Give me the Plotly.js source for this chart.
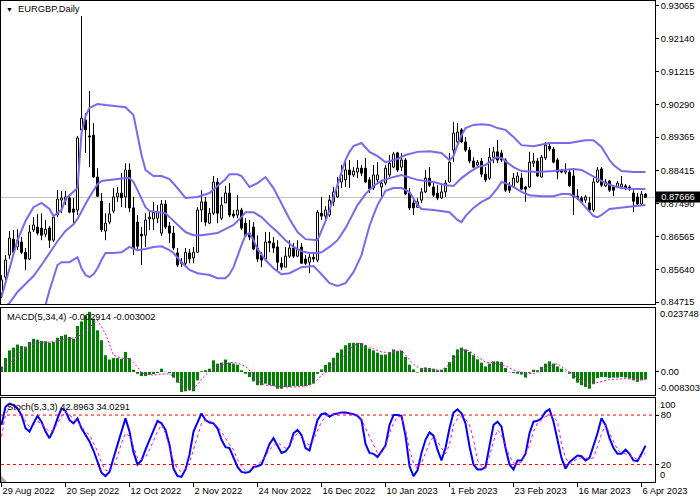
<!DOCTYPE html>
<html><head><meta charset="utf-8">
<script src="https://cdn.plot.ly/plotly-3.0.1.min.js"></script>
<style>html,body{margin:0;padding:0;background:#fff}#chart{width:700px;height:500px}</style>
</head><body><div id="chart"></div>
<script>
// ---- data (EURGBP Daily) ----
const dateLabels = ['29 Aug 2022','20 Sep 2022','12 Oct 2022','2 Nov 2022','24 Nov 2022','16 Dec 2022','10 Jan 2023','1 Feb 2023','23 Feb 2023','16 Mar 2023','6 Apr 2023'];
const dateTickIdx = [0,16,32,48,64,80,96,112,128,144,160];
const priceTicks = [0.93065,0.92140,0.91215,0.90290,0.89365,0.88415,0.87490,0.86565,0.85640,0.84715];
const priceTickText = ['0.93065','0.92140','0.91215','0.90290','0.89365','0.88415','0.87490','0.86565','0.85640','0.84715'];
const lastPrice = 0.87666;
const lastPriceText = '0.87666';

const openP = [
0.8497,0.8542,0.8604,0.8649,0.8627,0.8641,0.8612,0.8593,0.8675,0.8683,
0.8680,0.8663,0.8680,0.8646,0.8717,0.8759,0.8759,0.8765,0.8734,0.8731,
0.8957,0.8985,0.8940,0.8942,0.8824,0.8756,0.8672,0.8697,0.8728,0.8768,
0.8779,0.8768,0.8844,0.8737,0.8697,0.8663,0.8660,0.8706,0.8706,0.8708,
0.8666,0.8748,0.8686,0.8666,0.8610,0.8584,0.8581,0.8610,0.8596,0.8612,
0.8731,0.8754,0.8694,0.8722,0.8810,0.8708,0.8751,0.8779,0.8720,0.8717,
0.8731,0.8694,0.8666,0.8683,0.8624,0.8604,0.8593,0.8643,0.8638,0.8627,
0.8581,0.8570,0.8601,0.8624,0.8601,0.8627,0.8593,0.8584,0.8598,0.8590,
0.8722,0.8714,0.8717,0.8754,0.8768,0.8810,0.8816,0.8844,0.8830,0.8838,
0.8849,0.8849,0.8816,0.8793,0.8816,0.8796,0.8807,0.8830,0.8852,0.8892,
0.8852,0.8872,0.8779,0.8751,0.8739,0.8759,0.8782,0.8821,0.8796,0.8779,
0.8765,0.8782,0.8810,0.8900,0.8923,0.8957,0.8923,0.8900,0.8869,0.8858,
0.8869,0.8832,0.8821,0.8880,0.8895,0.8892,0.8872,0.8799,0.8796,0.8810,
0.8821,0.8796,0.8796,0.8863,0.8869,0.8824,0.8878,0.8911,0.8903,0.8872,
0.8841,0.8838,0.8838,0.8827,0.8770,0.8765,0.8759,0.8751,0.8731,0.8810,
0.8847,0.8799,0.8813,0.8796,0.8796,0.8796,0.8799,0.8796,0.8779,0.8768,
0.8748,0.8776];
const highP = [
0.8548,0.8604,0.8672,0.8675,0.8677,0.8655,0.8624,0.8689,0.8711,0.8720,
0.8722,0.8703,0.8686,0.8717,0.8787,0.8785,0.8785,0.8776,0.8765,0.8940,
0.9278,0.9004,0.9067,0.8976,0.8849,0.8779,0.8722,0.8751,0.8793,0.8796,
0.8835,0.8863,0.8863,0.8768,0.8717,0.8683,0.8722,0.8725,0.8754,0.8745,
0.8759,0.8759,0.8697,0.8686,0.8624,0.8596,0.8624,0.8621,0.8627,0.8739,
0.8787,0.8768,0.8737,0.8827,0.8821,0.8768,0.8799,0.8807,0.8731,0.8773,
0.8737,0.8708,0.8703,0.8697,0.8660,0.8612,0.8669,0.8669,0.8655,0.8646,
0.8598,0.8627,0.8646,0.8638,0.8646,0.8638,0.8604,0.8610,0.8610,0.8731,
0.8768,0.8742,0.8773,0.8796,0.8824,0.8858,0.8872,0.8872,0.8852,0.8872,
0.8858,0.8878,0.8824,0.8858,0.8866,0.8816,0.8858,0.8886,0.8895,0.8895,
0.8892,0.8878,0.8793,0.8759,0.8765,0.8793,0.8844,0.8852,0.8810,0.8801,
0.8801,0.8816,0.8892,0.8979,0.8976,0.8962,0.8937,0.8909,0.8880,0.8872,
0.8878,0.8852,0.8906,0.8909,0.8928,0.8900,0.8878,0.8810,0.8835,0.8838,
0.8835,0.8799,0.8895,0.8892,0.8878,0.8886,0.8923,0.8923,0.8909,0.8878,
0.8847,0.8863,0.8847,0.8844,0.8790,0.8770,0.8773,0.8768,0.8821,0.8852,
0.8852,0.8818,0.8816,0.8801,0.8813,0.8827,0.8804,0.8801,0.8787,0.8779,
0.8785,0.8779];
const lowP = [
0.8483,0.8534,0.8593,0.8607,0.8618,0.8607,0.8562,0.8590,0.8669,0.8660,
0.8646,0.8655,0.8624,0.8641,0.8711,0.8722,0.8745,0.8722,0.8689,0.8717,
0.8951,0.8892,0.8852,0.8821,0.8768,0.8669,0.8646,0.8691,0.8722,0.8754,
0.8739,0.8737,0.8725,0.8604,0.8621,0.8576,0.8627,0.8675,0.8675,0.8694,
0.8658,0.8677,0.8638,0.8618,0.8570,0.8570,0.8570,0.8581,0.8581,0.8610,
0.8697,0.8686,0.8691,0.8717,0.8694,0.8703,0.8751,0.8711,0.8708,0.8708,
0.8675,0.8655,0.8646,0.8618,0.8584,0.8570,0.8590,0.8612,0.8610,0.8562,
0.8562,0.8570,0.8596,0.8596,0.8598,0.8579,0.8576,0.8553,0.8584,0.8584,
0.8703,0.8703,0.8711,0.8742,0.8765,0.8793,0.8796,0.8793,0.8824,0.8821,
0.8827,0.8807,0.8779,0.8787,0.8807,0.8768,0.8801,0.8824,0.8849,0.8838,
0.8841,0.8773,0.8731,0.8717,0.8737,0.8751,0.8779,0.8796,0.8768,0.8759,
0.8762,0.8768,0.8807,0.8866,0.8914,0.8920,0.8895,0.8863,0.8849,0.8849,
0.8824,0.8810,0.8816,0.8863,0.8863,0.8866,0.8782,0.8779,0.8793,0.8807,
0.8787,0.8754,0.8793,0.8852,0.8824,0.8824,0.8872,0.8897,0.8863,0.8818,
0.8835,0.8832,0.8796,0.8717,0.8759,0.8751,0.8751,0.8725,0.8725,0.8807,
0.8796,0.8796,0.8782,0.8770,0.8793,0.8790,0.8787,0.8785,0.8725,0.8742,
0.8745,0.8765];
const closeP = [
0.8534,0.8590,0.8652,0.8612,0.8646,0.8612,0.8593,0.8669,0.8689,0.8666,
0.8660,0.8677,0.8646,0.8711,0.8762,0.8765,0.8768,0.8725,0.8725,0.8934,
0.8990,0.8957,0.8937,0.8824,0.8770,0.8675,0.8694,0.8720,0.8768,0.8779,
0.8765,0.8844,0.8737,0.8624,0.8629,0.8658,0.8703,0.8711,0.8725,0.8725,
0.8748,0.8683,0.8666,0.8624,0.8576,0.8581,0.8612,0.8593,0.8612,0.8731,
0.8754,0.8697,0.8722,0.8810,0.8722,0.8745,0.8779,0.8717,0.8714,0.8731,
0.8680,0.8658,0.8655,0.8621,0.8593,0.8590,0.8641,0.8638,0.8624,0.8584,
0.8570,0.8601,0.8624,0.8601,0.8621,0.8581,0.8581,0.8598,0.8593,0.8725,
0.8714,0.8731,0.8759,0.8782,0.8799,0.8830,0.8844,0.8830,0.8841,0.8849,
0.8835,0.8810,0.8790,0.8830,0.8830,0.8807,0.8849,0.8863,0.8889,0.8844,
0.8872,0.8776,0.8737,0.8737,0.8754,0.8782,0.8821,0.8801,0.8773,0.8765,
0.8782,0.8807,0.8866,0.8948,0.8951,0.8923,0.8900,0.8869,0.8852,0.8866,
0.8832,0.8816,0.8880,0.8895,0.8872,0.8872,0.8787,0.8787,0.8821,0.8827,
0.8790,0.8790,0.8866,0.8869,0.8827,0.8880,0.8914,0.8903,0.8866,0.8838,
0.8838,0.8841,0.8799,0.8768,0.8765,0.8754,0.8768,0.8731,0.8810,0.8844,
0.8801,0.8810,0.8787,0.8787,0.8807,0.8804,0.8793,0.8790,0.8756,0.8748,
0.8776,0.87666];

// Bollinger bands at the listed bars
const upperIdx = [0,2,4,6,8,10,12,13,15,16, 18,19,20,21,22,24,26,31,33,34, 35,36,38,40,42,44,46,49,52,54, 56,57,59,60,62,64,66,68,70,72, 74,76,79,80,81,82,83,84,85,86, 87,88,90,92,94,96,99,101,104,107, 110,112,113,114,115,116,118,120,122,124, 126,128,130,133,137,142,146,148,150,152, 153,155,158,161];
const upperBand = [0.8486,0.8570,0.8646,0.8700,0.8739,0.8751,0.8734,0.8714,0.8731,0.8762, 0.8782,0.8793,0.8948,0.8996,0.9019,0.9030,0.9027,0.9021,0.8999,0.8942, 0.8886,0.8844,0.8827,0.8827,0.8818,0.8793,0.8765,0.8768,0.8779,0.8799, 0.8818,0.8832,0.8832,0.8827,0.8796,0.8807,0.8824,0.8793,0.8751,0.8706, 0.8669,0.8649,0.8646,0.8672,0.8700,0.8731,0.8768,0.8807,0.8838,0.8872, 0.8895,0.8911,0.8920,0.8895,0.8883,0.8866,0.8875,0.8886,0.8895,0.8897, 0.8892,0.8872,0.8883,0.8914,0.8942,0.8962,0.8971,0.8973,0.8971,0.8962, 0.8957,0.8937,0.8914,0.8911,0.8920,0.8920,0.8928,0.8928,0.8909,0.8872, 0.8858,0.8841,0.8838,0.8838];
const middleIdx = [0,2,4,6,8,10,12,14,16,18, 19,20,21,22,23,24,25,27,31,32, 33,34,35,36,37,39,41,42,44,46, 48,50,54,56,58,60,61,63,65,67, 69,71,73,75,77,79,80,82,84,86, 88,89,91,93,95,97,100,102,104,108, 111,113,115,117,119,121,123,124,125,126, 128,130,134,138,143,145,147,149,151,153, 155,158,161];
const middleBand = [0.8452,0.8469,0.8500,0.8522,0.8545,0.8576,0.8610,0.8643,0.8672,0.8691, 0.8706,0.8725,0.8748,0.8768,0.8787,0.8804,0.8813,0.8816,0.8821,0.8821, 0.8810,0.8787,0.8762,0.8739,0.8728,0.8725,0.8722,0.8711,0.8691,0.8669, 0.8660,0.8660,0.8666,0.8677,0.8689,0.8711,0.8725,0.8725,0.8711,0.8689, 0.8669,0.8646,0.8627,0.8615,0.8610,0.8610,0.8612,0.8627,0.8646,0.8680, 0.8725,0.8745,0.8776,0.8799,0.8813,0.8821,0.8830,0.8824,0.8816,0.8810, 0.8801,0.8799,0.8821,0.8838,0.8852,0.8858,0.8875,0.8880,0.8878,0.8869, 0.8852,0.8841,0.8838,0.8841,0.8847,0.8844,0.8832,0.8818,0.8807,0.8799, 0.8793,0.8790,0.8790];
const lowerIdx = [10,11,12,13,14,15,17,19,20,21, 22,23,24,25,26,28,30,32,34,36, 38,40,42,43,45,47,49,52,54,56, 57,58,59,60,61,62,63,64,66,68, 70,72,75,78,80,81,82,84,86,88, 90,91,92,93,94,96,98,100,102,104, 105,108,112,114,115,116,118,120,122,124, 125,126,128,130,132,135,138,140,142,144, 146,147,148,149,150,152,155,158,161];
const lowerBand = [0.8435,0.8463,0.8505,0.8542,0.8576,0.8584,0.8584,0.8598,0.8567,0.8548, 0.8542,0.8550,0.8567,0.8590,0.8610,0.8610,0.8612,0.8627,0.8618,0.8621, 0.8627,0.8629,0.8618,0.8610,0.8584,0.8562,0.8553,0.8548,0.8539,0.8539, 0.8550,0.8570,0.8604,0.8632,0.8660,0.8666,0.8646,0.8621,0.8590,0.8567, 0.8550,0.8553,0.8570,0.8573,0.8550,0.8536,0.8525,0.8517,0.8525,0.8556, 0.8604,0.8646,0.8686,0.8717,0.8745,0.8785,0.8793,0.8793,0.8782,0.8745, 0.8734,0.8731,0.8725,0.8703,0.8697,0.8714,0.8737,0.8754,0.8765,0.8793, 0.8810,0.8807,0.8796,0.8782,0.8773,0.8770,0.8770,0.8776,0.8776,0.8765, 0.8739,0.8725,0.8714,0.8711,0.8717,0.8734,0.8739,0.8742,0.8745];

// MACD(5,34,4)
const macdHist = [
0.0022,0.0055,0.0085,0.0096,0.0108,0.0102,0.0100,0.0118,0.0131,0.0127,
0.0122,0.0121,0.0116,0.0118,0.0135,0.0142,0.0147,0.0138,0.0131,0.0181,
0.0199,0.0223,0.0237,0.0210,0.0164,0.0125,0.0066,0.0049,0.0055,0.0055,
0.0052,0.0079,0.0055,0.0009,-0.0007,-0.0016,-0.0016,-0.0011,-0.0009,-0.0004,
0.0013,0.0001,-0.0004,-0.0022,-0.0042,-0.0079,-0.0076,-0.0072,-0.0076,-0.0033,
0.0003,0.0007,0.0013,0.0046,0.0033,0.0037,0.0049,0.0037,0.0033,0.0029,
0.0007,-0.0007,-0.0020,-0.0037,-0.0052,-0.0052,-0.0046,-0.0052,-0.0055,-0.0066,
-0.0066,-0.0059,-0.0059,-0.0056,-0.0056,-0.0055,-0.0056,-0.0052,-0.0046,-0.0007,
0.0010,0.0028,0.0038,0.0056,0.0076,0.0089,0.0105,0.0114,0.0115,0.0115,
0.0114,0.0105,0.0092,0.0085,0.0076,0.0068,0.0069,0.0079,0.0089,0.0083,
0.0083,0.0059,0.0029,0.0010,-0.0002,0.0016,0.0018,0.0016,0.0013,0.0007,
0.0009,0.0016,0.0039,0.0066,0.0089,0.0096,0.0089,0.0079,0.0066,0.0050,
0.0037,0.0022,0.0033,0.0042,0.0042,0.0039,0.0016,-0.0001,-0.0004,-0.0007,
-0.0010,-0.0022,-0.0003,0.0009,0.0007,0.0020,0.0033,0.0042,0.0033,0.0022,
0.0013,0.0001,-0.0007,-0.0026,-0.0042,-0.0052,-0.0059,-0.0066,-0.0048,-0.0024,
-0.0020,-0.0020,-0.0024,-0.0022,-0.0022,-0.0020,-0.0022,-0.0026,-0.0033,-0.0039,
-0.0033,-0.0029];
const macdSigIdx = [0,2,4,7,9,12,14,17,19,22, 24,26,28,30,32,34,35,38,40,42, 44,45,47,49,50,52,54,57,59,61, 63,64,66,69,71,74,77,79,80,82, 83,86,88,90,92,95,97,100,102,103, 105,107,110,112,115,117,119,121,123,126, 128,131,133,135,137,139,141,142,145,147, 150,152,156,158,161];
const macdSignal = [0.0007,0.0033,0.0072,0.0105,0.0116,0.0118,0.0123,0.0131,0.0137,0.0177, 0.0203,0.0151,0.0066,0.0055,0.0052,0.0020,-0.0005,-0.0013,-0.0008,-0.0007, -0.0030,-0.0050,-0.0072,-0.0050,-0.0028,0.0003,0.0020,0.0037,0.0036,0.0022, -0.0010,-0.0035,-0.0052,-0.0056,-0.0059,-0.0059,-0.0052,-0.0030,-0.0012,0.0007, 0.0024,0.0070,0.0105,0.0114,0.0097,0.0079,0.0076,0.0085,0.0048,0.0030, 0.0010,0.0010,0.0007,0.0030,0.0088,0.0084,0.0060,0.0038,0.0037,0.0024, 0.0008,-0.0005,-0.0007,0.0008,0.0024,0.0033,0.0010,0.0002,-0.0035,-0.0049, -0.0039,-0.0030,-0.0026,-0.0030,-0.0030];
const macdLabel = 'MACD(5,34,4) -0.002914 -0.003002';
const macdTopText = '0.023748', macdTopVal = 0.023748;
const macdBotText = '-0.008303', macdBotVal = -0.008303;

// Stochastic(5,3,3)
const stochMain = [
68,90,94,92,88,80,64,60,70,79,
72,60,52,62,76,88,85,74,70,76,
64,56,48,37,24,10,6,11,28,45,
62,76,60,35,20,25,38,50,63,73,
70,62,44,15,6,5,14,32,60,72,
82,74,71,70,64,50,41,40,28,17,
11,10,11,17,18,20,32,45,52,42,
34,36,42,58,62,56,40,37,55,74,
81,82,78,81,82,83,83,82,81,79,
74,45,34,33,29,36,43,68,80,80,
79,55,18,6,13,34,50,59,55,38,
25,40,64,83,87,82,70,42,20,14,
14,17,45,68,72,66,40,20,14,25,
25,33,58,72,73,76,84,87,72,51,
28,15,23,27,31,30,25,28,42,58,
76,68,52,40,33,33,38,33,25,24,
33,42.9];
const stochSignal = [
54,80,90,92,90,82,72,66,68,72,
70,64,60,62,70,78,84,80,76,72,
66,60,56,45,36,22,13,12,18,30,
46,58,54,42,28,26,29,38,50,60,
68,58,40,24,15,11,15,22,38,54,
70,74,73,70,66,60,52,44,38,26,
18,13,13,16,20,24,30,38,43,47,
43,40,44,52,58,54,46,44,50,62,
72,78,81,81,82,82,82,81,81,80,
75,64,54,42,34,34,42,58,70,78,
78,62,38,22,15,22,33,46,54,48,
40,33,44,68,76,78,75,68,50,25,
18,15,30,48,62,56,42,30,22,21,
23,32,44,60,70,74,78,80,78,72,
45,28,21,24,27,28,28,27,28,42,
57,68,58,46,38,34,33,31,29,26,
30,34.0];
const stochLabel = 'Stoch(5,3,3) 42.8963 34.0291';
const stochLevels = [80,20];

// ---- build traces ----
const N = openP.length;
const barIdx = Array.from({length:N}, (_, i) => i);
const bodyBase = barIdx.map(i => Math.min(openP[i], closeP[i]));
const bodyLen = barIdx.map(i => Math.max(Math.abs(closeP[i]-openP[i]), 0.00004));
const bodyFill = barIdx.map(i => closeP[i] >= openP[i] ? '#ffffff' : '#000000');
const wickX = [], wickY = [];
barIdx.forEach(i => {
  const top = Math.max(openP[i], closeP[i]), bot = Math.min(openP[i], closeP[i]);
  if (highP[i] > top) { wickX.push(i, i, null); wickY.push(top, highP[i], null); }
  if (lowP[i] < bot) { wickX.push(i, i, null); wickY.push(lowP[i], bot, null); }
});
const bandColor = '#7B68EE';
const FONT = 'Liberation Sans, Arial, sans-serif';
const FS = 9.3;

const traces = [
  {type:'scatter', mode:'lines', x:wickX, y:wickY, line:{color:'#000', width:1}, xaxis:'x', yaxis:'y', hoverinfo:'skip'},
  {type:'bar', x:barIdx, y:bodyLen, base:bodyBase, width:0.5, marker:{color:bodyFill, line:{color:'#000', width:1}}, xaxis:'x', yaxis:'y'},
  {type:'scatter', mode:'lines', x:upperIdx, y:upperBand, line:{color:bandColor, width:2}, xaxis:'x', yaxis:'y'},
  {type:'scatter', mode:'lines', x:middleIdx, y:middleBand, line:{color:bandColor, width:2}, xaxis:'x', yaxis:'y'},
  {type:'scatter', mode:'lines', x:lowerIdx, y:lowerBand, line:{color:bandColor, width:2}, xaxis:'x', yaxis:'y'},
  {type:'bar', x:barIdx, y:macdHist, width:0.75, marker:{color:'#008000', line:{width:0}}, xaxis:'x2', yaxis:'y2'},
  {type:'scatter', mode:'lines', x:macdSigIdx, y:macdSignal, line:{color:'#FF00FF', width:1, dash:'2px,2px'}, xaxis:'x2', yaxis:'y2'},
  {type:'scatter', mode:'lines', x:barIdx, y:stochMain, line:{color:'#0000FF', width:2}, xaxis:'x3', yaxis:'y3'},
  {type:'scatter', mode:'lines', x:barIdx, y:stochSignal, line:{color:'#FF00FF', width:1, dash:'3px,3px'}, xaxis:'x3', yaxis:'y3'}
];

const xr = [-0.125, 163.375];
const baseX = {range:xr, showgrid:false, zeroline:false, showline:true, mirror:true, linecolor:'#000', linewidth:1, fixedrange:true};
const baseY = {side:'right', showgrid:false, zeroline:false, showline:true, mirror:true, linecolor:'#000', linewidth:1,
  ticks:'outside', ticklen:3, tickcolor:'#000', tickfont:{family:FONT, size:FS, color:'#000'}, fixedrange:true};

const annotations = [
  {xref:'paper', yref:'paper', x:0, y:1, xanchor:'left', yanchor:'top', xshift:3, yshift:-1, showarrow:false,
   text:'<span style="font-size:7px">▼</span>  EURGBP,Daily', font:{family:FONT, size:FS, color:'#000'}},
  {xref:'paper', yref:'paper', x:0, y:0.3617, xanchor:'left', yanchor:'top', xshift:4, yshift:-2, showarrow:false,
   text:macdLabel, font:{family:FONT, size:FS, color:'#000'}},
  {xref:'paper', yref:'paper', x:0, y:0.1746, xanchor:'left', yanchor:'top', xshift:4, yshift:-2, showarrow:false,
   text:stochLabel, font:{family:FONT, size:FS, color:'#000'}},
  {xref:'paper', yref:'y', x:1, y:lastPrice, xanchor:'left', yanchor:'middle', xshift:0, showarrow:false,
   text:lastPriceText, bgcolor:'#000', borderpad:0, width:44, height:10, font:{family:FONT, size:FS, color:'#fff'}},
  {xref:'paper', yref:'y2', x:1, y:macdTopVal, xanchor:'left', yanchor:'middle', xshift:3, yshift:-2, showarrow:false,
   text:macdTopText, font:{family:FONT, size:FS, color:'#000'}},
  {xref:'paper', yref:'y2', x:1, y:macdBotVal, xanchor:'left', yanchor:'middle', xshift:1, yshift:5, showarrow:false,
   text:macdBotText, font:{family:FONT, size:FS, color:'#000'}},
  {xref:'paper', yref:'y3', x:1, y:100, xanchor:'left', yanchor:'middle', xshift:3, yshift:-6, showarrow:false,
   text:'100', font:{family:FONT, size:FS, color:'#000'}},
  {xref:'paper', yref:'y3', x:1, y:0, xanchor:'left', yanchor:'middle', xshift:3, yshift:6, showarrow:false,
   text:'0', font:{family:FONT, size:FS, color:'#000'}}
];

const shapes = [
  {type:'line', xref:'x domain', yref:'y', x0:0, x1:1, y0:lastPrice, y1:lastPrice, line:{color:'#C0C0C0', width:1}, layer:'below'},
  {type:'path', xref:'paper', yref:'paper', path:'M0,0 L0.0092,0 L0,0.0135 Z', fillcolor:'#A8A8A8', line:{width:0}}
].concat(stochLevels.map(v => ({type:'line', xref:'x3 domain', yref:'y3', x0:0, x1:1, y0:v, y1:v,
  line:{color:'#FF0000', width:1, dash:'3px,3px'}, layer:'below'})));

const layout = {
  width:700, height:500, margin:{l:1, r:45, t:1, b:18},
  paper_bgcolor:'#fff', plot_bgcolor:'#fff', showlegend:false, hovermode:false,
  font:{family:FONT, size:FS, color:'#000'},
  xaxis: Object.assign({}, baseX, {anchor:'y', showticklabels:false, ticks:''}),
  xaxis2: Object.assign({}, baseX, {anchor:'y2', showticklabels:false, ticks:''}),
  xaxis3: Object.assign({}, baseX, {anchor:'y3', tickmode:'array', tickvals:dateTickIdx, ticktext:dateLabels,
    ticks:'outside', ticklen:4, tickcolor:'#000', ticklabelposition:'outside right',
    tickfont:{family:FONT, size:FS, color:'#000'}}),
  yaxis: Object.assign({}, baseY, {anchor:'x', domain:[0.3701, 1], range:[0.84662, 0.93203],
    tickmode:'array', tickvals:priceTicks, ticktext:priceTickText}),
  yaxis2: Object.assign({}, baseY, {anchor:'x2', domain:[0.1809, 0.3617], range:[-0.00906, 0.02520],
    tickmode:'array', tickvals:[0], ticktext:['0.00']}),
  yaxis3: Object.assign({}, baseY, {anchor:'x3', domain:[0, 0.1746], range:[-1.2, 100.7],
    tickmode:'array', tickvals:stochLevels, ticktext:stochLevels.map(String)}),
  annotations: annotations,
  shapes: shapes
};

Plotly.newPlot('chart', traces, layout, {staticPlot:true, displayModeBar:false});
</script>
</body></html>
